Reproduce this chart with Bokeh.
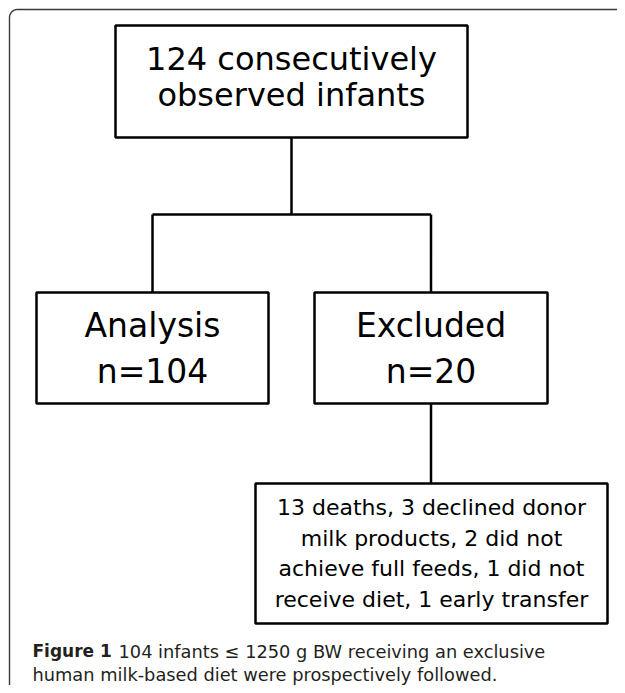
import numpy as np
from bokeh.plotting import figure
from bokeh.models import Range1d, ColumnDataSource
from bokeh.core.properties import value
from bokeh.embed import file_html
from bokeh.resources import INLINE

# ---------------- data (text content of the flow chart) ----------------
top_lines = ["124 consecutively", "observed infants"]
branch_labels = ["Analysis", "Excluded"]
branch_counts = ["n=104", "n=20"]
reason_lines = [
    "13 deaths, 3 declined donor",
    "milk products, 2 did not",
    "achieve full feeds, 1 did not",
    "receive diet, 1 early transfer",
]
caption_bold = "Figure 1"
caption_line1 = "104 infants \u2264 1250 g BW receiving an exclusive"
caption_line2 = "human milk-based diet were prospectively followed."

# ---------------- layout (page pixel coordinates) ----------------
X0, X1, Y0, Y1 = 0, 617, 0, 685
FONT = "DejaVu Sans"
INK = "#000000"
LW = 2.5

box_left = [115, 36, 314, 255]
box_right = [467, 268, 547, 607]
box_top = [25, 292, 292, 483]
box_bottom = [137, 403, 403, 623]

p = figure(width=X1 - X0, height=Y1 - Y0,
           x_range=Range1d(X0, X1), y_range=Range1d(Y1, Y0),
           x_axis_type=None, y_axis_type=None,
           toolbar_location=None, output_backend="svg",
           min_border=0, outline_line_color=None)
p.grid.visible = False
p.background_fill_color = "white"
p.border_fill_color = "white"

# outer rounded frame (left and top edges visible)
r = 8
ang = np.linspace(np.pi, 1.5 * np.pi, 20)
fx = [9] + list(9 + r + r * np.cos(ang)) + [640]
fy = [700] + list(9 + r + r * np.sin(ang)) + [9]
p.line(fx, fy, line_color="#3a3a3a", line_width=1.4)

# connectors
cx_top = (box_left[0] + box_right[0]) / 2
cx_a = (box_left[1] + box_right[1]) / 2
cx_e = (box_left[2] + box_right[2]) / 2
hy = 214
p.multi_line(
    xs=[[cx_top, cx_top], [cx_a, cx_e], [cx_a, cx_a], [cx_e, cx_e], [cx_e, cx_e]],
    ys=[[box_bottom[0], hy], [hy, hy], [hy, box_top[1]], [hy, box_top[2]],
        [box_bottom[2], box_top[3]]],
    line_color=INK, line_width=LW)

# boxes
p.quad(left=box_left, right=box_right, top=box_top, bottom=box_bottom,
       fill_color="white", line_color=INK, line_width=LW)

# box texts: y given as text baseline, drawn centred on cap height
def add_text(xs, baselines, texts, size, font=FONT, style="normal", align="center", color=INK):
    ys = [b - 0.36 * size for b in baselines]
    src = ColumnDataSource(dict(x=xs, y=ys, t=texts))
    p.text(x="x", y="y", text="t", source=src,
           text_font=value(font), text_font_size=f"{size}px",
           text_font_style=style, text_align=align,
           text_baseline="middle", text_color=color)

add_text([cx_top] * 2, [70, 106], top_lines, 32)
add_text([cx_a, cx_e], [337, 337], branch_labels, 33)
add_text([cx_a, cx_e], [383, 383], branch_counts, 33)
cx_b = (box_left[3] + box_right[3]) / 2
add_text([cx_b] * 4, [515, 545.5, 576, 606.5], reason_lines, 22)

# caption
CAP = "#231f20"
add_text([32], [657], [caption_bold], 17, style="bold", align="left", color=CAP)
add_text([118], [657], [caption_line1], 17.8, align="left", color=CAP)
add_text([32], [680], [caption_line2], 17.8, align="left", color=CAP)

open("out.html", "w").write(file_html(p, INLINE))
